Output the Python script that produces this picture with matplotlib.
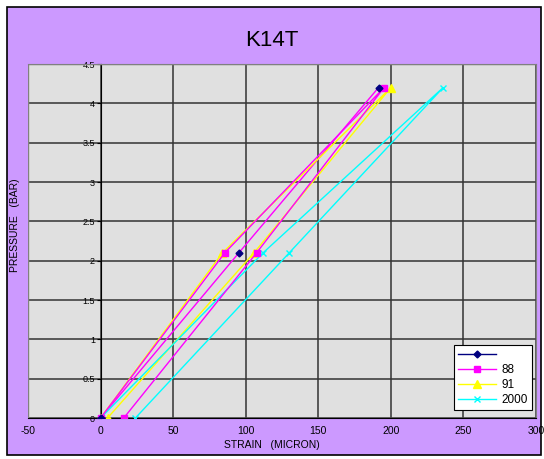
import matplotlib
matplotlib.use("Agg")
import matplotlib.pyplot as plt
from matplotlib.patches import Rectangle
from matplotlib.lines import Line2D

plt.rcParams['font.family'] = ['Liberation Sans', 'DejaVu Sans']
plt.rcParams['axes.unicode_minus'] = False

# Loading / unloading cycles: strain (micron) vs pressure (bar)
strain_0 = [0, 95.3, 191.5]
press_0 = [0, 2.1, 4.2]
strain_88 = [0, 85.6, 195.3, 107.5, 16]
press_88 = [0, 2.1, 4.2, 2.1, 0]
strain_91 = [0, 84, 200, 105.7, 4.8]
press_91 = [0, 2.1, 4.2, 2.1, 0]
strain_2000 = [0, 112, 236, 130, 24]
press_2000 = [0, 2.1, 4.2, 2.1, 0]

labels = ['', '88', '91', '2000']
x_ticks = [-50, 0, 50, 100, 150, 200, 250, 300]
y_ticks = [0, 0.5, 1, 1.5, 2, 2.5, 3, 3.5, 4, 4.5]

W, H = 544, 459
fig = plt.figure(figsize=(W / 100, H / 100), dpi=100, facecolor='white')
bg = Rectangle((7 / W, 4 / H), 534 / W, 448 / H, transform=fig.transFigure,
               facecolor='#CC99FF', edgecolor='black', linewidth=1.2, zorder=-10)
fig.patches.append(bg)

ax = fig.add_axes([28 / W, 1 - 418 / H, 508 / W, 354 / H])
ax.set_zorder(5)
ax.set_facecolor('#E0E0E0')
ax.set_xlim(-50, 300)
ax.set_ylim(0, 4.5)
ax.set_xticks(x_ticks)
ax.set_yticks(y_ticks)
ax.set_yticklabels([f'{v:g}' for v in y_ticks])
ax.grid(True, color='#333333', linewidth=1.1)
ax.set_axisbelow(True)

for s in ['top', 'right']:
    ax.spines[s].set_color('#808080')
ax.spines['left'].set_position(('data', 0))
ax.spines['left'].set_color('black')
ax.spines['bottom'].set_color('black')
ax.add_patch(Rectangle((0, 0), 1, 1, transform=ax.transAxes, fill=False,
                       edgecolor='#808080', linewidth=1.0, zorder=5))

ax.tick_params(axis='y', labelsize=6.5, length=3, pad=1, direction='out')
ax.tick_params(axis='x', labelsize=7.5, length=0, pad=6)

ax.plot(strain_0, press_0, color='#FF00FF', linewidth=1, zorder=3)
ax.plot(strain_0, press_0, linestyle='none', marker='D', markersize=3.5,
        color='#000080', zorder=6)
ax.plot(strain_88, press_88, color='#FF00FF', linewidth=1, marker='s', markersize=5, zorder=4)
ax.plot(strain_91, press_91, color='#FFFF00', linewidth=1, marker='^', markersize=6, zorder=3)
ax.plot(strain_2000, press_2000, color='#00FFFF', linewidth=1, marker='x', markersize=5,
        markeredgewidth=1, zorder=3)

handles = [
    Line2D([], [], color='#000080', marker='D', markersize=3.5, linewidth=1),
    Line2D([], [], color='#FF00FF', marker='s', markersize=5, linewidth=1),
    Line2D([], [], color='#FFFF00', marker='^', markersize=6, linewidth=1),
    Line2D([], [], color='#00FFFF', marker='x', markersize=5, linewidth=1),
]
leg = ax.legend(handles, labels, loc='lower right', bbox_to_anchor=(0.992, 0.0226),
                borderaxespad=0, fontsize=8.5, frameon=True, fancybox=False,
                framealpha=1, edgecolor='black', handlelength=3.2, labelspacing=0.25,
                borderpad=0.35, handletextpad=0.5)
leg.get_frame().set_linewidth(0.8)
leg.set_zorder(10)

fig.text(272 / W, 1 - 40 / H, 'K14T', ha='center', va='center', fontsize=16)
fig.text(272 / W, 1 - 445 / H, 'STRAIN   (MICRON)', ha='center', va='center', fontsize=7.5)
fig.text(15 / W, 1 - 225 / H, 'PRESSURE   (BAR)', ha='center', va='center',
         rotation=90, fontsize=7.5)

fig.savefig('out.png', dpi=100, facecolor='white')
